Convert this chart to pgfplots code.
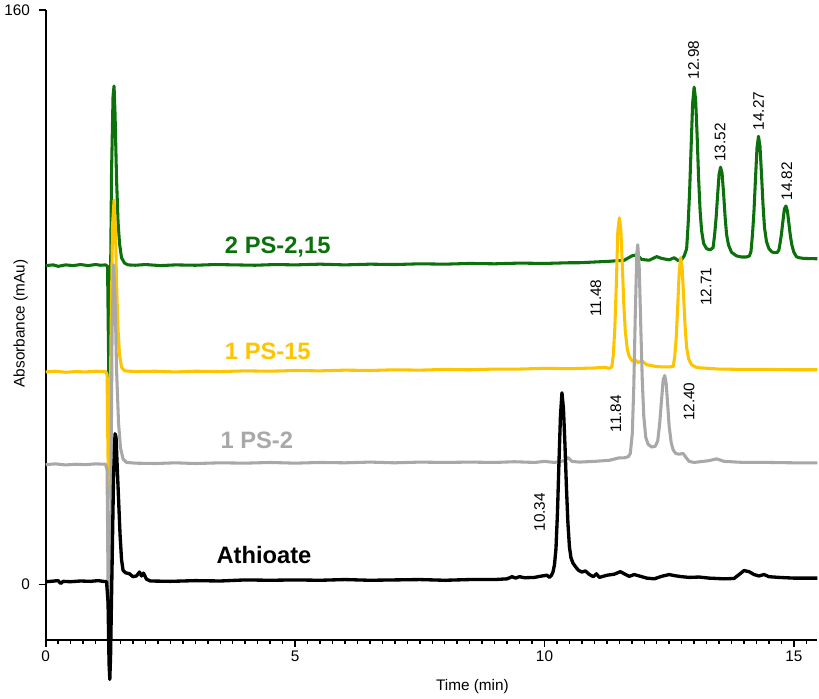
\documentclass[border=0pt]{standalone}
\usepackage{fontspec}
\setmainfont{Liberation Sans}
\usepackage{pgfplots}
\pgfplotsset{compat=1.18}

\definecolor{psgreen}{RGB}{12,112,12}
\definecolor{psyellow}{RGB}{255,196,0}
\definecolor{psgray}{RGB}{168,168,168}
\newcommand{\lbl}{\fontsize{11.5}{13}\selectfont}
\newcommand{\serieslbl}{\fontsize{17.8}{20}\selectfont\bfseries}

\begin{document}
\begin{tikzpicture}
\begin{axis}[
  scale only axis, width=579pt, height=472.5pt,
  xmin=0, xmax=15.47, ymin=-15.3, ymax=160,
  axis x line*=bottom, axis y line*=left,
  axis line style={line width=1.5pt},
  xtick={0,5,10,15}, minor xtick={0,0.25,...,15.25}, ytick={0,160},
  tick align=outside, major tick length=5.25pt, minor tick length=3.4pt,
  every tick/.style={black, line width=1.2pt},
  every minor tick/.style={black, line width=1.1pt},
  tick label style={font=\lbl},
  yticklabel style={xshift=-3pt},
  /pgf/number format/assume math mode=true,
  xlabel={Time (min)}, ylabel={Absorbance (mAu)},
  label style={font=\lbl},
  xlabel style={at={(axis description cs:0.553,-0.0747)}, anchor=center},
  ylabel style={at={(axis description cs:-0.0324,0.502)}, anchor=center},
  clip=false,
  every axis plot/.append style={line join=round, no markers},
]
% 2 PS-2,15
\addplot[psgreen, line width=2.3pt] coordinates {
(0,88.8)(0.15,89.0)(0.25,88.6)(0.4,89.0)(0.55,88.8)(0.7,89.1)(0.85,88.8)(1.0,89.1)
(1.1,88.9)(1.2,89.0)(1.24,88.6)(1.255,70)(1.27,52.6)(1.29,70)(1.32,115)(1.35,136)
(1.37,138.8)(1.39,131)(1.42,113)(1.45,101)(1.48,95)(1.52,91)(1.58,89.5)(1.65,89.0)
(1.8,88.9)(2.0,89.1)(2.3,88.8)(2.6,89.0)(3.0,88.9)(3.4,89.1)(3.8,89.0)(4.2,88.9)
(4.6,89.1)(5.0,89.0)(5.5,89.2)(6.0,89.0)(6.5,89.2)(7.0,89.1)(7.5,89.3)(8.0,89.2)
(8.5,89.4)(9.0,89.3)(9.5,89.5)(10.0,89.4)(10.5,89.6)(10.7,89.6)(11.0,89.8)(11.3,90.0)
(11.6,90.3)(11.75,91.5)(11.85,91.8)(11.95,90.5)(12.1,90.3)(12.25,91.3)(12.35,90.8)
(12.5,90.4)(12.6,91.0)(12.68,90.2)(12.75,90.5)(12.8,91.5)(12.85,93.5)
(12.88,100.4)(12.91,109.7)(12.94,122)(12.97,134)(13.00,138.5)(13.03,135)(13.06,125)
(13.09,113)(13.12,104)(13.15,98.5)(13.19,95)(13.25,93.5)(13.32,93.2)(13.38,93.8)
(13.41,97.3)(13.44,102)(13.47,108.3)(13.50,114.2)(13.53,116.2)(13.56,114.5)(13.59,109)
(13.62,102.5)(13.65,97.5)(13.69,94.5)(13.75,92.5)(13.85,91.5)(13.95,91.2)(14.05,91.2)
(14.11,91.5)(14.14,92.8)(14.17,97.5)(14.20,104)(14.23,113)(14.26,121.5)(14.29,124.8)
(14.32,122)(14.35,114.5)(14.38,106)(14.41,99.5)(14.45,95.5)(14.50,93.5)(14.56,92.6)
(14.62,92.4)(14.67,92.5)(14.70,93.2)(14.72,94.8)(14.75,97.5)(14.78,101.2)(14.81,104.6)
(14.84,105.4)(14.87,104)(14.90,100.5)(14.93,97)(14.96,94.5)(15.00,92.5)(15.05,91.3)
(15.1,91)(15.2,90.8)(15.47,90.7)
};
% 1 PS-15
\addplot[psyellow, line width=2.3pt] coordinates {
(0,59.2)(0.2,59.4)(0.4,59.1)(0.6,59.3)(0.8,59.2)(1.0,59.4)(1.2,59.3)(1.23,58.5)
(1.245,40)(1.26,24.2)(1.28,35)(1.31,70)(1.34,100)(1.37,107)(1.40,98)(1.42,84)
(1.45,71)(1.48,64)(1.52,60.5)(1.58,59.5)(1.8,59.3)(2.2,59.4)(2.6,59.2)(3.0,59.4)
(3.5,59.3)(4,59.5)(4.5,59.4)(5,59.6)(5.5,59.5)(6,59.7)(6.5,59.6)(7,59.8)(7.5,59.7)
(8,59.9)(8.5,59.8)(9,60.0)(9.5,60.0)(10,60.2)(10.5,60.1)(11,60.3)(11.2,60.5)(11.3,60.2)
(11.35,60.6)(11.38,64)(11.41,71.5)(11.44,83.5)(11.47,98.4)(11.50,102.1)(11.53,99)
(11.56,89)(11.59,78)(11.62,70.5)(11.66,65.5)(11.70,63.5)(11.76,62.2)(11.82,62.5)
(11.88,61.8)(11.95,62.3)(12.05,61.2)(12.2,60.8)(12.35,60.6)(12.5,60.6)(12.58,60.7)
(12.61,63.4)(12.64,68.5)(12.67,77.3)(12.70,86.8)(12.73,91)(12.76,88)(12.79,80)
(12.82,71.5)(12.85,66)(12.89,62.8)(12.95,61.2)(13.05,60.4)(13.5,60.0)(14,59.9)
(14.5,59.9)(15,59.8)(15.47,59.8)
};
% 1 PS-2
\addplot[psgray, line width=2.3pt] coordinates {
(0,33.4)(0.2,33.6)(0.4,33.3)(0.6,33.5)(0.8,33.4)(1.0,33.6)(1.2,33.5)(1.23,32)
(1.25,0)(1.27,-13)(1.29,-5)(1.31,30)(1.33,70)(1.36,89)(1.39,80)(1.42,60)(1.46,45)
(1.50,38)(1.55,35)(1.62,34)(1.8,33.8)(2.2,33.7)(2.6,33.9)(3,33.7)(3.5,33.9)(4,33.8)
(4.5,34.0)(5,33.8)(5.5,34.0)(6,33.9)(6.5,34.1)(7,33.9)(7.5,34.1)(8,34.0)(8.5,34.1)
(9,34.0)(9.4,34.2)(9.8,34.0)(10.0,34.3)(10.2,34.0)(10.4,34.5)(10.47,35.4)(10.55,34.3)
(10.7,34.1)(11.0,34.3)(11.3,34.6)(11.5,35.3)(11.6,35.3)(11.68,35.6)(11.72,36.5)
(11.76,42)(11.79,55)(11.82,75)(11.85,92)(11.87,94.6)(11.90,88)(11.93,72)(11.96,57)
(11.99,47)(12.03,41)(12.08,39)(12.15,38.3)(12.22,38.5)(12.27,40)(12.31,45)(12.35,52)
(12.38,57)(12.41,58.2)(12.44,56)(12.47,50)(12.50,44)(12.54,39.5)(12.58,37.5)
(12.63,36.5)(12.70,36.3)(12.78,36.5)(12.83,35.5)(12.9,34.3)(13.0,34.0)(13.3,34.5)
(13.45,35.0)(13.6,34.3)(14,34.0)(14.5,34.0)(15,33.9)(15.47,33.9)
};
% Athioate
\addplot[black, line width=2.5pt] coordinates {
(0,0.8)(0.1,0.9)(0.25,1.1)(0.3,0.3)(0.35,0.9)(0.5,0.8)(0.7,1.0)(0.9,0.9)(1.05,1.1)
(1.15,0.9)(1.22,0.8)(1.25,-5)(1.27,-22)(1.285,-26.4)(1.30,-20)(1.33,5)(1.36,30)
(1.39,42)(1.41,41)(1.43,34)(1.46,24)(1.49,14)(1.52,7)(1.55,4)(1.60,3.3)(1.68,3)
(1.75,2.2)(1.82,2.4)(1.88,3.5)(1.92,2.4)(1.96,3.2)(2.02,1.5)(2.1,1.0)(2.5,0.9)(3,1.1)
(3.5,1.0)(4,1.3)(4.5,1.2)(5,1.3)(5.5,1.2)(6,1.4)(6.5,1.2)(7,1.3)(7.5,1.4)(8,1.2)
(8.5,1.4)(9.0,1.4)(9.25,1.6)(9.35,2.2)(9.42,1.8)(9.5,2.2)(9.6,1.9)(9.8,2.0)(9.95,2.4)
(10.05,2.6)(10.10,2.0)(10.14,2.6)(10.17,3.5)(10.20,5.5)(10.23,10)(10.26,20)(10.29,34)
(10.32,47)(10.35,53.4)(10.38,49)(10.41,39)(10.44,27)(10.47,17)(10.50,10.5)(10.53,7.5)
(10.57,6)(10.62,5)(10.68,4)(10.75,3.5)(10.82,3.8)(10.9,2.8)(10.98,2.2)(11.04,3.0)
(11.1,2.0)(11.25,2.6)(11.4,2.9)(11.52,3.6)(11.6,3.0)(11.7,2.3)(11.8,2.8)(11.95,2.2)
(12.05,1.8)(12.2,1.6)(12.35,2.3)(12.5,2.8)(12.6,2.5)(12.75,2.2)(12.9,2.0)(13.1,2.1)
(13.3,1.8)(13.6,1.6)(13.8,1.7)(13.92,3.0)(14.0,3.9)(14.1,3.6)(14.2,2.8)(14.3,2.4)
(14.4,2.8)(14.5,2.2)(14.7,2.0)(15.0,1.8)(15.47,1.8)
};

% series names
\node[anchor=base west, text=psgreen, font=\serieslbl] at (axis cs:3.50,92.3) {2 PS-2,15};
\node[anchor=base west, text=psyellow, font=\serieslbl] at (axis cs:3.50,62.8) {1 PS-15};
\node[anchor=base west, text=psgray, font=\serieslbl] at (axis cs:3.41,37.8) {1 PS-2};
\node[anchor=base west, text=black, font=\serieslbl] at (axis cs:3.33,5.8) {Athioate};

% retention times
\begin{scope}[every node/.style={rotate=90, anchor=west, inner sep=0pt, font=\lbl}]
\node at (axis cs:12.99,140.6) {12.98};
\node at (axis cs:13.52,117.7) {13.52};
\node at (axis cs:14.29,126.4) {14.27};
\node at (axis cs:14.86,106.9) {14.82};
\node at (axis cs:11.03,74.5) {11.48};
\node at (axis cs:13.24,77.5) {12.71};
\node at (axis cs:11.43,42.3) {11.84};
\node at (axis cs:12.90,45.5) {12.40};
\node at (axis cs:9.90,14.7) {10.34};
\end{scope}
\end{axis}
\end{tikzpicture}
\end{document}
